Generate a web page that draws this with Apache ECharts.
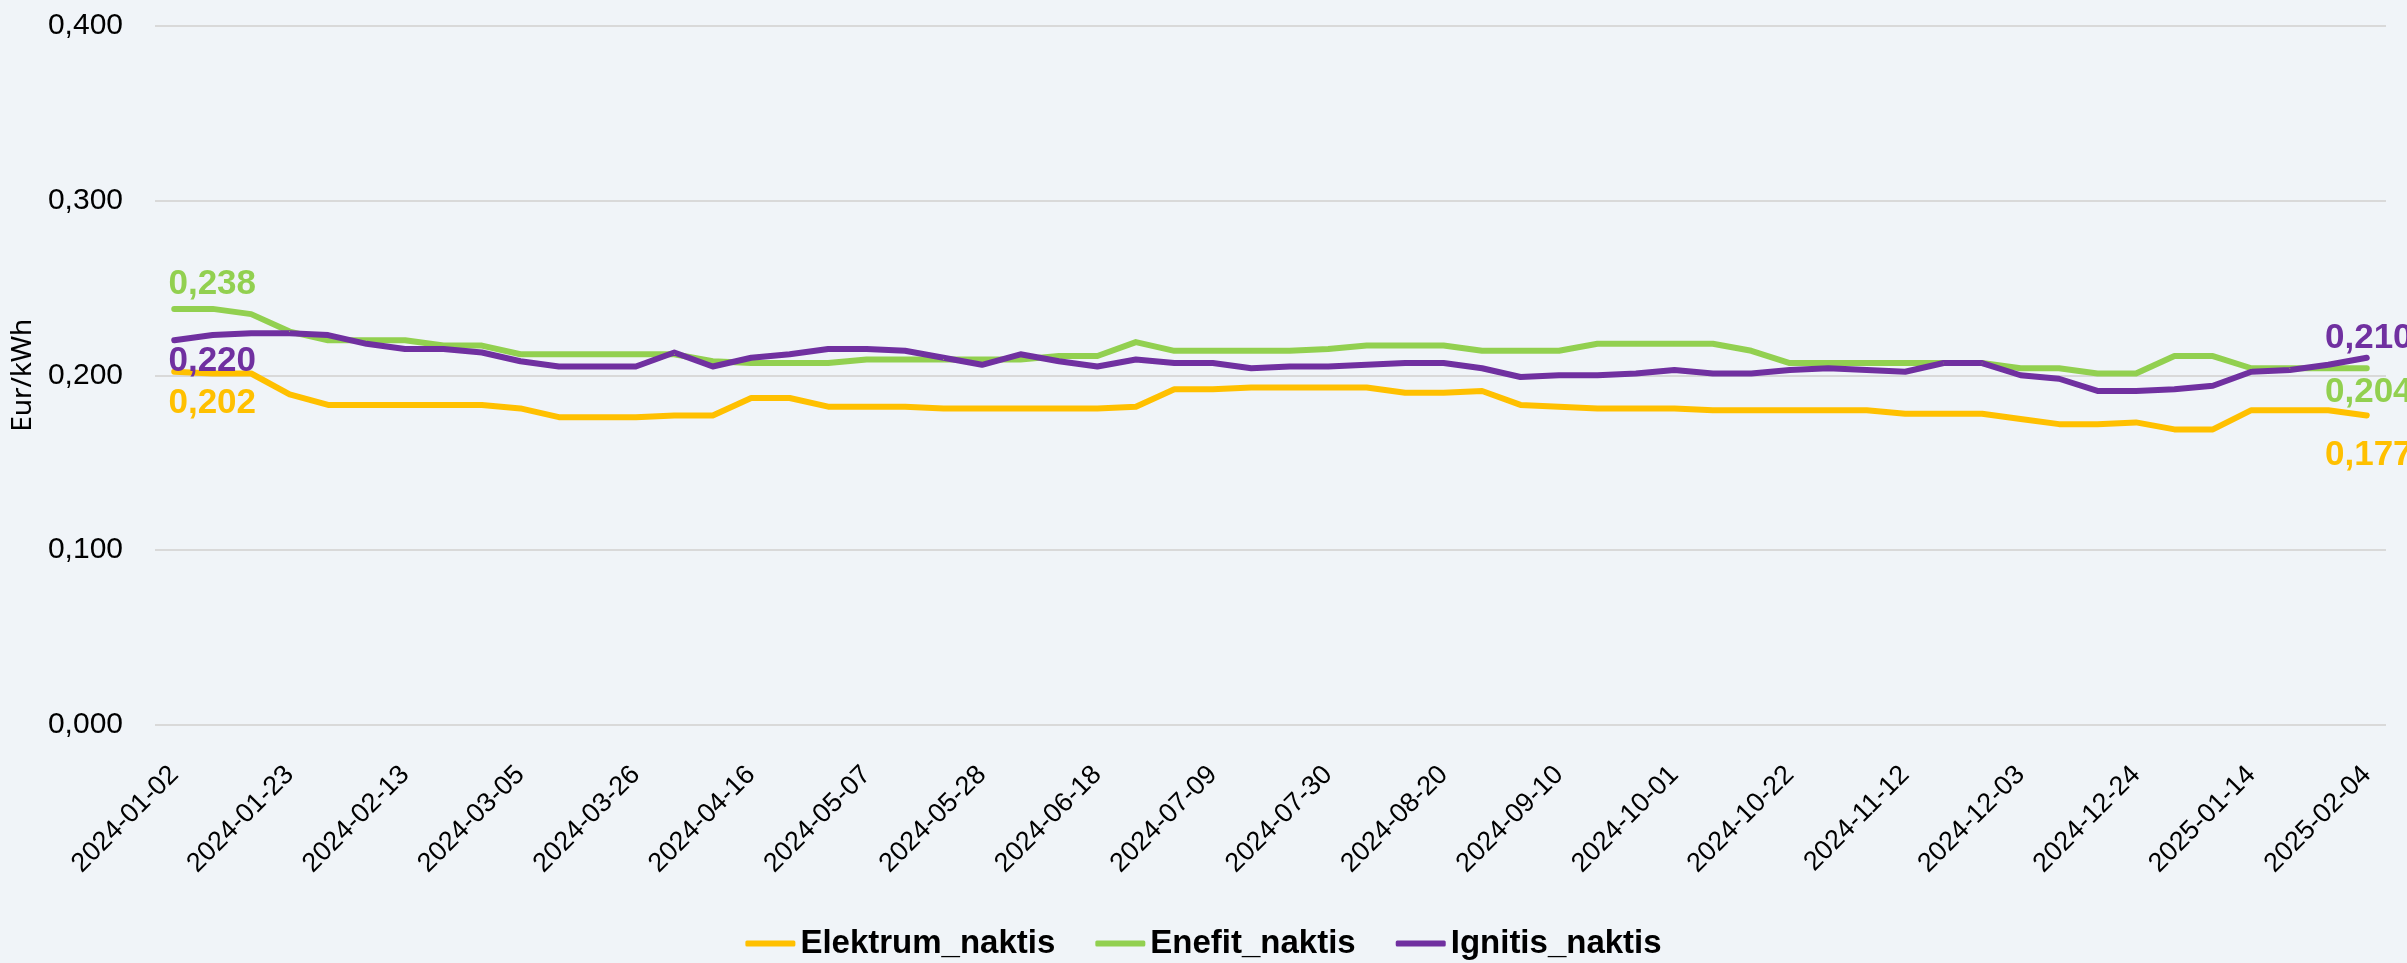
<!DOCTYPE html>
<html>
<head>
<meta charset="utf-8">
<script src="https://cdn.jsdelivr.net/npm/echarts@6/dist/echarts.min.js"></script>
<style>
  html, body { margin: 0; padding: 0; background: #F0F4F8; }
  #chart { width: 2407px; height: 963px; }
</style>
</head>
<body>
<div id="chart"></div>
<script>
const dates = [
  '2024-01-02','2024-01-09','2024-01-16','2024-01-23','2024-01-30','2024-02-06','2024-02-13','2024-02-20','2024-02-27',
  '2024-03-05','2024-03-12','2024-03-19','2024-03-26','2024-04-02','2024-04-09','2024-04-16','2024-04-23','2024-04-30',
  '2024-05-07','2024-05-14','2024-05-21','2024-05-28','2024-06-04','2024-06-11','2024-06-18','2024-06-25',
  '2024-07-02','2024-07-09','2024-07-16','2024-07-23','2024-07-30','2024-08-06','2024-08-13','2024-08-20','2024-08-27',
  '2024-09-03','2024-09-10','2024-09-17','2024-09-24','2024-10-01','2024-10-08','2024-10-15','2024-10-22','2024-10-29',
  '2024-11-05','2024-11-12','2024-11-19','2024-11-26','2024-12-03','2024-12-10','2024-12-17','2024-12-24','2024-12-31',
  '2025-01-07','2025-01-14','2025-01-21','2025-01-28','2025-02-04'
]

const elektrum = [
  0.202, 0.201, 0.201, 0.189, 0.183, 0.183, 0.183, 0.183, 0.183, 0.181,
  0.176, 0.176, 0.176, 0.177, 0.177, 0.187, 0.187, 0.182, 0.182, 0.182,
  0.181, 0.181, 0.181, 0.181, 0.181, 0.182, 0.192, 0.192, 0.193, 0.193,
  0.193, 0.193, 0.190, 0.190, 0.191, 0.183, 0.182, 0.181, 0.181, 0.181,
  0.180, 0.180, 0.180, 0.180, 0.180, 0.178, 0.178, 0.178, 0.175, 0.172,
  0.172, 0.173, 0.169, 0.169, 0.180, 0.180, 0.180, 0.177
]

const enefit = [
  0.238, 0.238, 0.235, 0.225, 0.220, 0.220, 0.220, 0.217, 0.217, 0.212,
  0.212, 0.212, 0.212, 0.212, 0.208, 0.207, 0.207, 0.207, 0.209, 0.209,
  0.209, 0.209, 0.209, 0.211, 0.211, 0.219, 0.214, 0.214, 0.214, 0.214,
  0.215, 0.217, 0.217, 0.217, 0.214, 0.214, 0.214, 0.218, 0.218, 0.218,
  0.218, 0.214, 0.207, 0.207, 0.207, 0.207, 0.207, 0.207, 0.204, 0.204,
  0.201, 0.201, 0.211, 0.211, 0.204, 0.204, 0.204, 0.204
]

const ignitis = [
  0.220, 0.223, 0.224, 0.224, 0.223, 0.218, 0.215, 0.215, 0.213, 0.208,
  0.205, 0.205, 0.205, 0.213, 0.205, 0.210, 0.212, 0.215, 0.215, 0.214,
  0.210, 0.206, 0.212, 0.208, 0.205, 0.209, 0.207, 0.207, 0.204, 0.205,
  0.205, 0.206, 0.207, 0.207, 0.204, 0.199, 0.200, 0.200, 0.201, 0.203,
  0.201, 0.201, 0.203, 0.204, 0.203, 0.202, 0.207, 0.207, 0.200, 0.198,
  0.191, 0.191, 0.192, 0.194, 0.202, 0.203, 0.206, 0.210
]

const yTicks = { min: 0, max: 0.4, step: 0.1 }

const FONT = '"Liberation Sans", sans-serif'
const fmt = v => v.toFixed(3).replace('.', ',')

// first and last point get a coloured value label, like the original
function withEndLabels(values, color, firstOffset, lastOffset) {
  return values.map((v, i) => {
    if (i !== 0 && i !== values.length - 1) return v
    return {
      value: v,
      label: {
        show: true,
        position: 'inside',
        offset: i === 0 ? firstOffset : lastOffset,
        formatter: p => fmt(p.value),
        color: color,
        fontFamily: FONT,
        fontWeight: 'bold',
        fontSize: 35
      }
    }
  })
}

function lineSeries(name, values, color, firstOffset, lastOffset) {
  return {
    name: name,
    type: 'line',
    data: withEndLabels(values, color, firstOffset, lastOffset),
    symbol: 'circle',
    symbolSize: 1,
    showSymbol: true,
    itemStyle: { color: color },
    lineStyle: { color: color, width: 6, cap: 'round', join: 'round' },
    emphasis: { disabled: true },
    z: 3
  }
}

const chart = echarts.init(document.getElementById('chart'))

chart.setOption({
  backgroundColor: '#F0F4F8',
  animation: false,
  grid: { left: 155, right: 21, top: 26, bottom: 238.5, containLabel: false },
  legend: {
    bottom: -2,
    left: 'center',
    itemWidth: 50,
    itemHeight: 6,
    itemGap: 40,
    icon: 'roundRect',
    textStyle: { fontFamily: FONT, fontWeight: 'bold', fontSize: 33, color: '#000' },
    data: ['Elektrum_naktis', 'Enefit_naktis', 'Ignitis_naktis']
  },
  xAxis: {
    type: 'category',
    data: dates,
    boundaryGap: true,
    axisLine: { show: false },
    axisTick: { show: false },
    axisLabel: {
      interval: 2,
      rotate: 45,
      margin: 46,
      color: '#000',
      fontFamily: FONT,
      fontSize: 27
    }
  },
  yAxis: {
    type: 'value',
    min: yTicks.min,
    max: yTicks.max,
    interval: yTicks.step,
    name: 'Eur/kWh',
    nameLocation: 'middle',
    nameRotate: 90,
    nameGap: 110,
    nameTextStyle: { fontFamily: '"Noto Sans", sans-serif', fontSize: 28, color: '#000' },
    axisLine: { show: false },
    axisTick: { show: false },
    axisLabel: {
      margin: 32,
      color: '#000',
      fontFamily: FONT,
      fontSize: 30,
      formatter: v => fmt(v)
    },
    splitLine: { lineStyle: { color: '#D9D9D9', width: 2 } }
  },
  series: [
    lineSeries('Elektrum_naktis', elektrum, '#FFC000', [38, 32], [2, 40]),
    lineSeries('Enefit_naktis', enefit, '#92D050', [38, -25], [2, 24]),
    lineSeries('Ignitis_naktis', ignitis, '#7030A0', [38, 21], [2, -19])
  ]
})
</script>
</body>
</html>
